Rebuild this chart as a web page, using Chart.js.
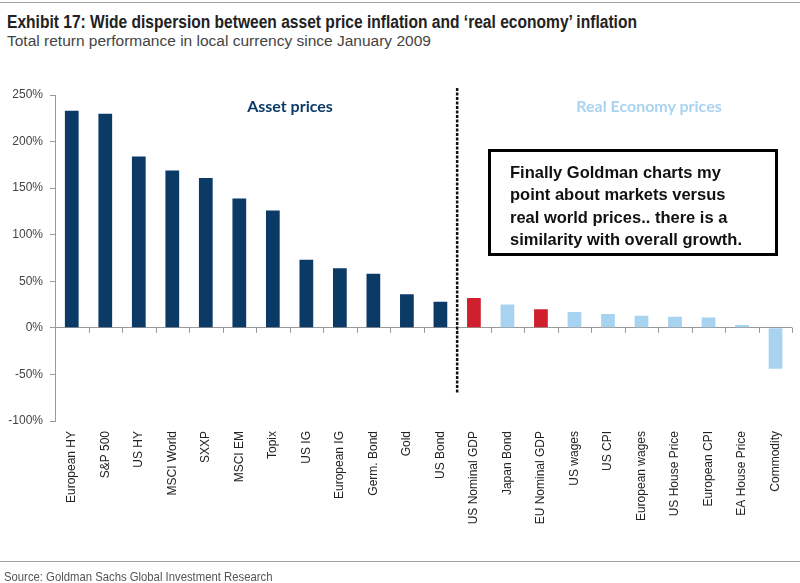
<!DOCTYPE html>
<html>
<head>
<meta charset="utf-8">
<script src="https://cdn.jsdelivr.net/npm/chart.js@4"></script>
<style>
  html, body { margin: 0; padding: 0; background: #fff; }
  #page { position: relative; width: 800px; height: 583px; overflow: hidden; }
  .rule { position: absolute; left: 0; width: 800px; height: 1px; background: #a0a0a0; }
  .title { position: absolute; left: 7px; top: 12px; font: bold 17.5px "Liberation Sans Narrow", "Liberation Sans", Arial, sans-serif; color: #222; white-space: nowrap; transform: scaleX(0.89); transform-origin: 0 0; }
  .subtitle { position: absolute; left: 7px; top: 32px; font: 15.5px "Liberation Sans", Arial, sans-serif; color: #444; white-space: nowrap; }
  .source { position: absolute; left: 4px; top: 569px; font: 13px "Liberation Sans", Arial, sans-serif; color: #555; white-space: nowrap; transform: scaleX(0.87); transform-origin: 0 0; }
  .group { position: absolute; font: bold 16px Lato, "Open Sans", sans-serif; white-space: nowrap; transform: translateX(-50%); }
  .note { position: absolute; left: 488px; top: 149px; width: 284px; height: 101px; border: 3px solid #000; box-sizing: content-box; }
  .note div { position: absolute; left: 19px; top: 9px; font: bold 16.5px "Liberation Sans", Arial, sans-serif; line-height: 22.4px; color: #111; white-space: nowrap; }
  #wrap { position: absolute; left: 0; top: 0; width: 800px; height: 583px; }
</style>
</head>
<body>
<div id="page">
  <div class="rule" style="top:2px;"></div>
  <div class="title">Exhibit 17: Wide dispersion between asset price inflation and ‘real economy’ inflation</div>
  <div class="subtitle">Total return performance in local currency since January 2009</div>
  <div id="wrap"><canvas id="chart"></canvas></div>
  <div class="group" style="left:290px; top:96px; color:#0b3a66;">Asset prices</div>
  <div class="group" style="left:649px; top:96px; color:#a9d3f0;">Real Economy prices</div>
  <div class="note"><div>Finally Goldman charts my<br>point about markets versus<br>real world prices.. there is a<br>similarity with overall growth.</div></div>
  <div class="rule" style="top:561px;"></div>
  <div class="source">Source: Goldman Sachs Global Investment Research</div>
</div>
<script>
'use strict';

// categories (left to right)
const categories = [
  'European HY', 'S&P 500', 'US HY', 'MSCI World', 'SXXP', 'MSCI EM', 'Topix',
  'US IG', 'European IG', 'Germ. Bond', 'Gold', 'US Bond',
  'US Nominal GDP', 'Japan Bond', 'EU Nominal GDP', 'US wages', 'US CPI',
  'European wages', 'US House Price', 'European CPI', 'EA House Price', 'Commodity'
];

// total return since Jan 2009, %
const returns = [
  233, 230, 184, 169, 161, 139, 126,
  73, 64, 58, 36, 28,
  32, 25, 20, 17, 15,
  13, 12, 11, 3, -44
];

// which group each bar belongs to
const kinds = [
  'asset', 'asset', 'asset', 'asset', 'asset', 'asset', 'asset',
  'asset', 'asset', 'asset', 'asset', 'asset',
  'gdp', 'real', 'gdp', 'real', 'real',
  'real', 'real', 'real', 'real', 'real'
];

const yTicks = [-100, -50, 0, 50, 100, 150, 200, 250];

const kindColor = { asset: '#0b3a66', real: '#a7d3f0', gdp: '#d0202e' };
const lastAsset = kinds.lastIndexOf('asset');

// zero axis with tick marks + dashed divider between the two groups
const decor = {
  id: 'decor',
  afterDatasetsDraw(chart) {
    const { ctx, chartArea } = chart;
    const x = chart.scales.x, y = chart.scales.y;
    const y0 = y.getPixelForValue(0);
    const step = x.getPixelForValue(1) - x.getPixelForValue(0);
    ctx.save();
    ctx.strokeStyle = '#9a9a9a';
    ctx.lineWidth = 1;
    ctx.beginPath();
    for (let i = 1; i <= categories.length; i++) {
      const px = Math.round(x.getPixelForValue(i) - step / 2) + 0.5;
      ctx.moveTo(px, y0);
      ctx.lineTo(px, y0 + 5);
    }
    ctx.stroke();

    const dx = (x.getPixelForValue(lastAsset) + x.getPixelForValue(lastAsset + 1)) / 2;
    ctx.strokeStyle = '#111';
    ctx.lineWidth = 2.5;
    ctx.setLineDash([3, 1.5]);
    ctx.beginPath();
    ctx.moveTo(dx, chartArea.top - 7);
    ctx.lineTo(dx, chartArea.bottom - 28);
    ctx.stroke();
    ctx.restore();
  }
};

new Chart(document.getElementById('chart'), {
  type: 'bar',
  data: {
    labels: categories,
    datasets: [{
      data: returns,
      backgroundColor: kinds.map(k => kindColor[k]),
      categoryPercentage: 1,
      barPercentage: 0.41,
    }],
  },
  options: {
    responsive: true,
    maintainAspectRatio: false,
    animation: false,
    layout: { padding: { top: 95, right: 3, bottom: 32, left: 0 } },
    plugins: { legend: { display: false }, tooltip: { enabled: false } },
    scales: {
      x: {
        grid: { display: false, drawTicks: false },
        border: { display: false },
        ticks: {
          minRotation: 90, maxRotation: 90, autoSkip: false, padding: 10,
          color: '#222', font: { family: 'Liberation Sans, Arial, sans-serif', size: 12 },
        },
        afterFit(scale) { scale.height = 130; },
      },
      y: {
        min: -100, max: 250,
        afterBuildTicks(scale) { scale.ticks = yTicks.map(v => ({ value: v })); },
        grid: {
          color: ctx => (ctx.tick && ctx.tick.value === 0 ? '#9a9a9a' : 'rgba(0,0,0,0)'),
          tickColor: '#9a9a9a', tickLength: 5, lineWidth: 1,
        },
        border: { display: true, color: '#9a9a9a' },
        ticks: {
          padding: 7, color: '#444',
          font: { family: 'Liberation Sans, Arial, sans-serif', size: 12 },
          callback: v => v + '%',
        },
        afterFit(scale) { scale.width = 55; },
      },
    },
  },
  plugins: [decor],
});
</script>
</body>
</html>
